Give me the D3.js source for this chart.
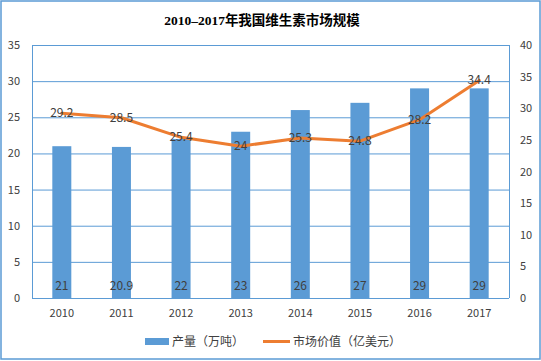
<!DOCTYPE html>
<html><head><meta charset="utf-8">
<script src="https://cdn.jsdelivr.net/npm/d3@7"></script>
<style>body{margin:0;background:#fff}svg{display:block}</style>
</head><body>
<svg id="c" width="541" height="361"></svg>
<script>
const years = ["2010","2011","2012","2013","2014","2015","2016","2017"];
const output = [21, 20.9, 22, 23, 26, 27, 29, 29];
const marketValue = [29.2, 28.5, 25.4, 24, 25.3, 24.8, 28.2, 34.4];
const leftTicks = [0,5,10,15,20,25,30,35];
const rightTicks = [0,5,10,15,20,25,30,35,40];
const title = "2010–2017年我国维生素市场规模";
const legendLabels = ["产量（万吨）","市场价值（亿美元）"];

const svg = d3.select("#c");
const blue = "#5b9bd5", orange = "#ed7d31", txt = "#404040";
const L = 32, R = 509, T = 45, B = 298;
const font = "'Microsoft YaHei','Noto Sans CJK SC',sans-serif";

svg.append("rect").attr("x",1).attr("y",1).attr("width",539).attr("height",358)
  .attr("fill","#fff").attr("stroke",blue).attr("stroke-width",1.5);

const xc = d3.scaleBand().domain(years).range([L,R]);
const yL = d3.scaleLinear().domain([0,35]).range([B,T]);
const yR = d3.scaleLinear().domain([0,40]).range([B,T]);

// gridlines
svg.append("g").selectAll("line").data(leftTicks).join("line")
  .attr("x1",L).attr("x2",R).attr("y1",d=>yL(d)+0.5).attr("y2",d=>yL(d)+0.5)
  .attr("stroke",blue).attr("stroke-width",1);
svg.append("line").attr("x1",L+0.5).attr("x2",L+0.5).attr("y1",T).attr("y2",B).attr("stroke",blue);
svg.append("line").attr("x1",R+0.5).attr("x2",R+0.5).attr("y1",T).attr("y2",B).attr("stroke",blue);

// axes labels
const axL = svg.append("g").attr("transform",`translate(${L},0)`)
  .call(d3.axisLeft(yL).tickValues(leftTicks).tickSize(0).tickPadding(12));
const axR = svg.append("g").attr("transform",`translate(${R},0)`)
  .call(d3.axisRight(yR).tickValues(rightTicks).tickSize(0).tickPadding(11));
const axB = svg.append("g").attr("transform",`translate(0,${B})`)
  .call(d3.axisBottom(xc).tickSize(0).tickPadding(11));
[axL,axR,axB].forEach(a=>{
  a.select(".domain").remove();
  a.selectAll("text").attr("fill",txt).style("font-family",font).style("font-size","11px");
});

// bars
const bw = 19;
svg.append("g").selectAll("rect").data(output).join("rect")
  .attr("x",(d,i)=>xc(years[i])+xc.bandwidth()/2-bw/2).attr("width",bw)
  .attr("y",d=>yL(d)).attr("height",d=>B-yL(d)).attr("fill",blue);
svg.append("g").selectAll("text").data(output).join("text")
  .attr("x",(d,i)=>xc(years[i])+xc.bandwidth()/2).attr("y",290)
  .attr("text-anchor","middle").attr("fill",txt)
  .style("font-family",font).style("font-size","12px").text(d=>d);

// line
const line = d3.line().x((d,i)=>xc(years[i])+xc.bandwidth()/2).y(d=>yR(d));
svg.append("path").datum(marketValue).attr("d",line).attr("fill","none")
  .attr("stroke",orange).attr("stroke-width",3).attr("stroke-linejoin","round").attr("stroke-linecap","round");
svg.append("g").selectAll("text").data(marketValue).join("text")
  .attr("x",(d,i)=>xc(years[i])+xc.bandwidth()/2).attr("y",d=>yR(d)+4)
  .attr("text-anchor","middle").attr("fill",txt)
  .style("font-family",font).style("font-size","12px").text(d=>d);

// title
svg.append("text").attr("x",262).attr("y",25).attr("text-anchor","middle")
  .attr("fill","#000").style("font-family","'Liberation Serif','Noto Sans CJK SC',serif")
  .style("font-size","13.5px").style("font-weight","bold").text(title);

// legend
const lg = svg.append("g");
lg.append("rect").attr("x",145).attr("y",338).attr("width",24).attr("height",7).attr("fill",blue);
lg.append("text").attr("x",172).attr("y",346).attr("fill",txt)
  .style("font-family",font).style("font-size","12px").text(legendLabels[0]);
lg.append("line").attr("x1",263).attr("x2",290).attr("y1",341.5).attr("y2",341.5)
  .attr("stroke",orange).attr("stroke-width",3);
lg.append("text").attr("x",293).attr("y",346).attr("fill",txt)
  .style("font-family",font).style("font-size","12px").text(legendLabels[1]);
</script>
</body></html>
